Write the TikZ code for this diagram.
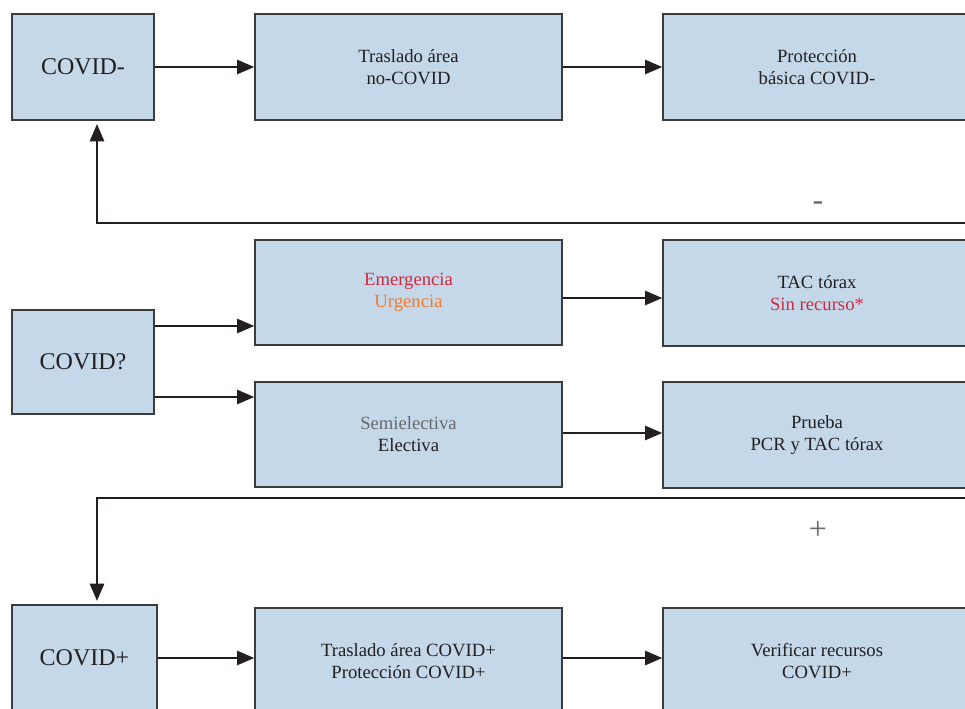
\documentclass[tikz,border=0pt]{standalone}
\usepackage{fontspec}
\setmainfont{Liberation Serif}
\usetikzlibrary{arrows.meta,calc}
\definecolor{boxfill}{RGB}{197,216,233}
\definecolor{boxline}{RGB}{60,60,62}
\definecolor{arrowc}{RGB}{35,31,32}
\definecolor{txt}{RGB}{35,31,32}
\definecolor{redt}{RGB}{204,43,64}
\definecolor{oranget}{RGB}{238,125,49}
\definecolor{grayt}{RGB}{105,105,108}
\begin{document}
\begin{tikzpicture}[x=0.75pt,y=-0.75pt,
  box/.style={draw=boxline,line width=1pt,fill=boxfill,rectangle,align=center,
    font=\fontsize{14}{16.5}\selectfont,text=txt,inner sep=0pt},
  bigbox/.style={box,font=\fontsize{18}{21}\selectfont},
  conn/.style={draw=arrowc,line width=2.2pt,-{Triangle[length=13pt,width=10.5pt]}},
  sign/.style={text=grayt,font=\fontsize{24}{26}\selectfont,inner sep=0pt}]
\useasboundingbox (0,0) rectangle (965,708);
% row 1
\node[bigbox,minimum width=106.5pt,minimum height=79.5pt] (neg) at (83,67) {COVID-};
\node[box,minimum width=230.25pt,minimum height=79.5pt] (tr1) at (408.5,67) {Traslado área\\no-COVID};
\node[box,minimum width=231pt,minimum height=79.5pt] (prot) at (817,67) {Protección\\básica COVID-};
% row 2
\node[bigbox,minimum width=106.5pt,minimum height=78pt] (q) at (83,362) {COVID?};
\node[box,minimum width=230.25pt,minimum height=78.75pt] (em) at (408.5,292.5) {\textcolor{redt}{Emergencia}\\\textcolor{oranget}{Urgencia}};
\node[box,minimum width=231pt,minimum height=79.5pt] (tac) at (817,293) {TAC tórax\\\textcolor{redt}{Sin recurso*}};
\node[box,minimum width=230.25pt,minimum height=78.75pt] (se) at (408.5,434.5) {\textcolor{grayt}{Semielectiva}\\Electiva};
\node[box,minimum width=231pt,minimum height=79.5pt] (pr) at (817,435) {Prueba\\PCR y TAC tórax};
% row 3
\node[bigbox,minimum width=108.75pt,minimum height=79.5pt] (pos) at (84.5,658) {COVID+};
\node[box,minimum width=230.25pt,minimum height=79.5pt] (tr2) at (408.5,661) {Traslado área COVID+\\Protección COVID+};
\node[box,minimum width=231pt,minimum height=79.5pt] (ver) at (817,661) {Verificar recursos\\COVID+};
% feedback coordinates
\coordinate (fbneg) at (975,223);
\coordinate (fbpos) at (975,498);
% arrows
\draw[conn] (neg.east |- 0,67) -- (tr1.west |- 0,67);
\draw[conn] (tr1.east |- 0,67) -- (prot.west |- 0,67);
\draw[conn] (q.east |- 0,326) -- (em.west |- 0,326);
\draw[conn] (q.east |- 0,397) -- (se.west |- 0,397);
\draw[conn] (em.east |- 0,298) -- (tac.west |- 0,298);
\draw[conn] (se.east |- 0,433) -- (pr.west |- 0,433);
\draw[conn] (pos.east |- 0,658) -- (tr2.west |- 0,658);
\draw[conn] (tr2.east |- 0,658) -- (ver.west |- 0,658);
\draw[conn,shorten >=2.5pt] (fbneg) -- (97,223) -- (97,223 |- neg.south);
\draw[conn,shorten >=2.5pt] (fbpos) -- (97,498) -- (97,498 |- pos.north);
% signs
\node[sign] (minus) at (818,206) {-};
\node[sign] (plus) at (818,530) {+};
\end{tikzpicture}
\end{document}
